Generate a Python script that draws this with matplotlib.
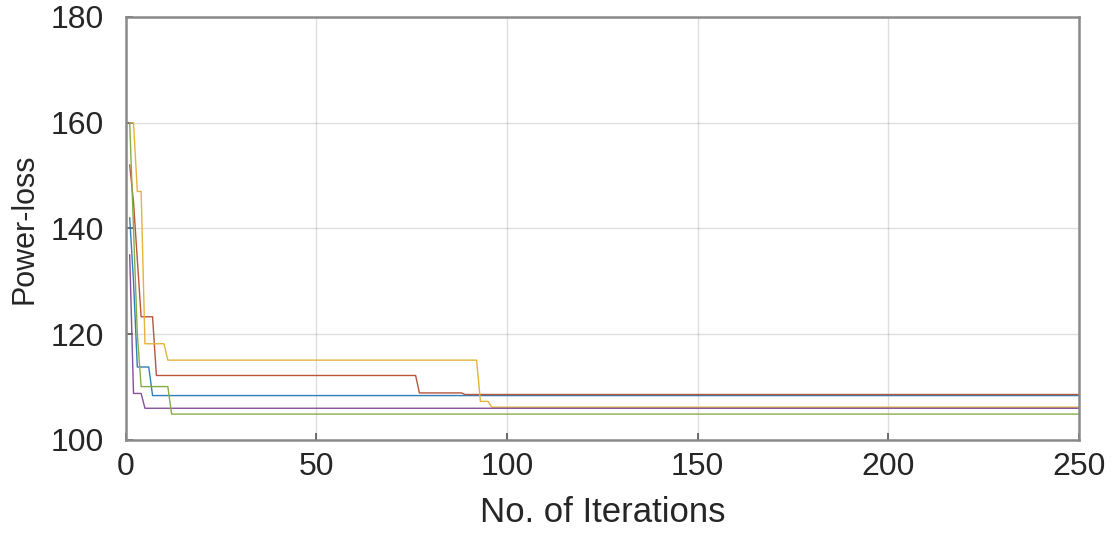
import numpy as np
import matplotlib.pyplot as plt

plt.rcParams['font.family'] = ['Liberation Sans', 'DejaVu Sans']

# convergence curves (iteration, best power loss)
iter_blue = [1, 2, 3, 6, 7, 250]
loss_blue = [142, 130, 113.8, 113.8, 108.4, 108.4]

iter_red = [1, 2, 4, 7, 8, 76, 77, 88, 89, 250]
loss_red = [152, 145, 123.3, 123.3, 112.2, 112.2, 108.9, 108.9, 108.6, 108.6]

iter_yellow = [1, 2, 3, 4, 5, 10, 11, 92, 93, 95, 96, 250]
loss_yellow = [160, 160, 147, 147, 118.2, 118.2, 115.1, 115.1, 107.3, 107.3, 106.2, 106.2]

iter_purple = [1, 2, 4, 5, 250]
loss_purple = [135, 108.8, 108.8, 106.0, 106.0]

iter_green = [1, 2, 3, 4, 11, 12, 250]
loss_green = [160, 140, 120, 110.1, 110.1, 104.9, 104.9]

series = [
    (iter_blue, loss_blue, '#2F7FB8'),
    (iter_red, loss_red, '#B8553A'),
    (iter_yellow, loss_yellow, '#E6B33A'),
    (iter_purple, loss_purple, '#86509A'),
    (iter_green, loss_green, '#86AD45'),
]

fig = plt.figure(figsize=(11.14, 5.39), dpi=100)
ax = fig.add_axes([0.113, 0.1837, 0.8555, 0.7848])

for it, loss, col in series:
    ax.plot(it, loss, color=col, linewidth=1.0)

ax.set_xlim(0, 250)
ax.set_ylim(100, 180)
ax.set_xticks([0, 50, 100, 150, 200, 250])
ax.set_yticks([100, 120, 140, 160, 180])
ax.grid(True, color='#262626', alpha=0.15, linewidth=1.0)

for s in ax.spines.values():
    s.set_color('#8a8a8a')
    s.set_linewidth(1.8)

ax.tick_params(direction='in', length=5, width=1.2, color='#555555',
               labelsize=23, labelcolor='#262626')
ax.tick_params(axis='y', pad=16)
ax.tick_params(axis='x', pad=9)

ax.set_xlabel('No. of Iterations', fontsize=25, color='#262626', labelpad=10)
ax.set_ylabel('Power-loss', fontsize=22, color='#262626', labelpad=8)

fig.savefig('out.png', dpi=100)
